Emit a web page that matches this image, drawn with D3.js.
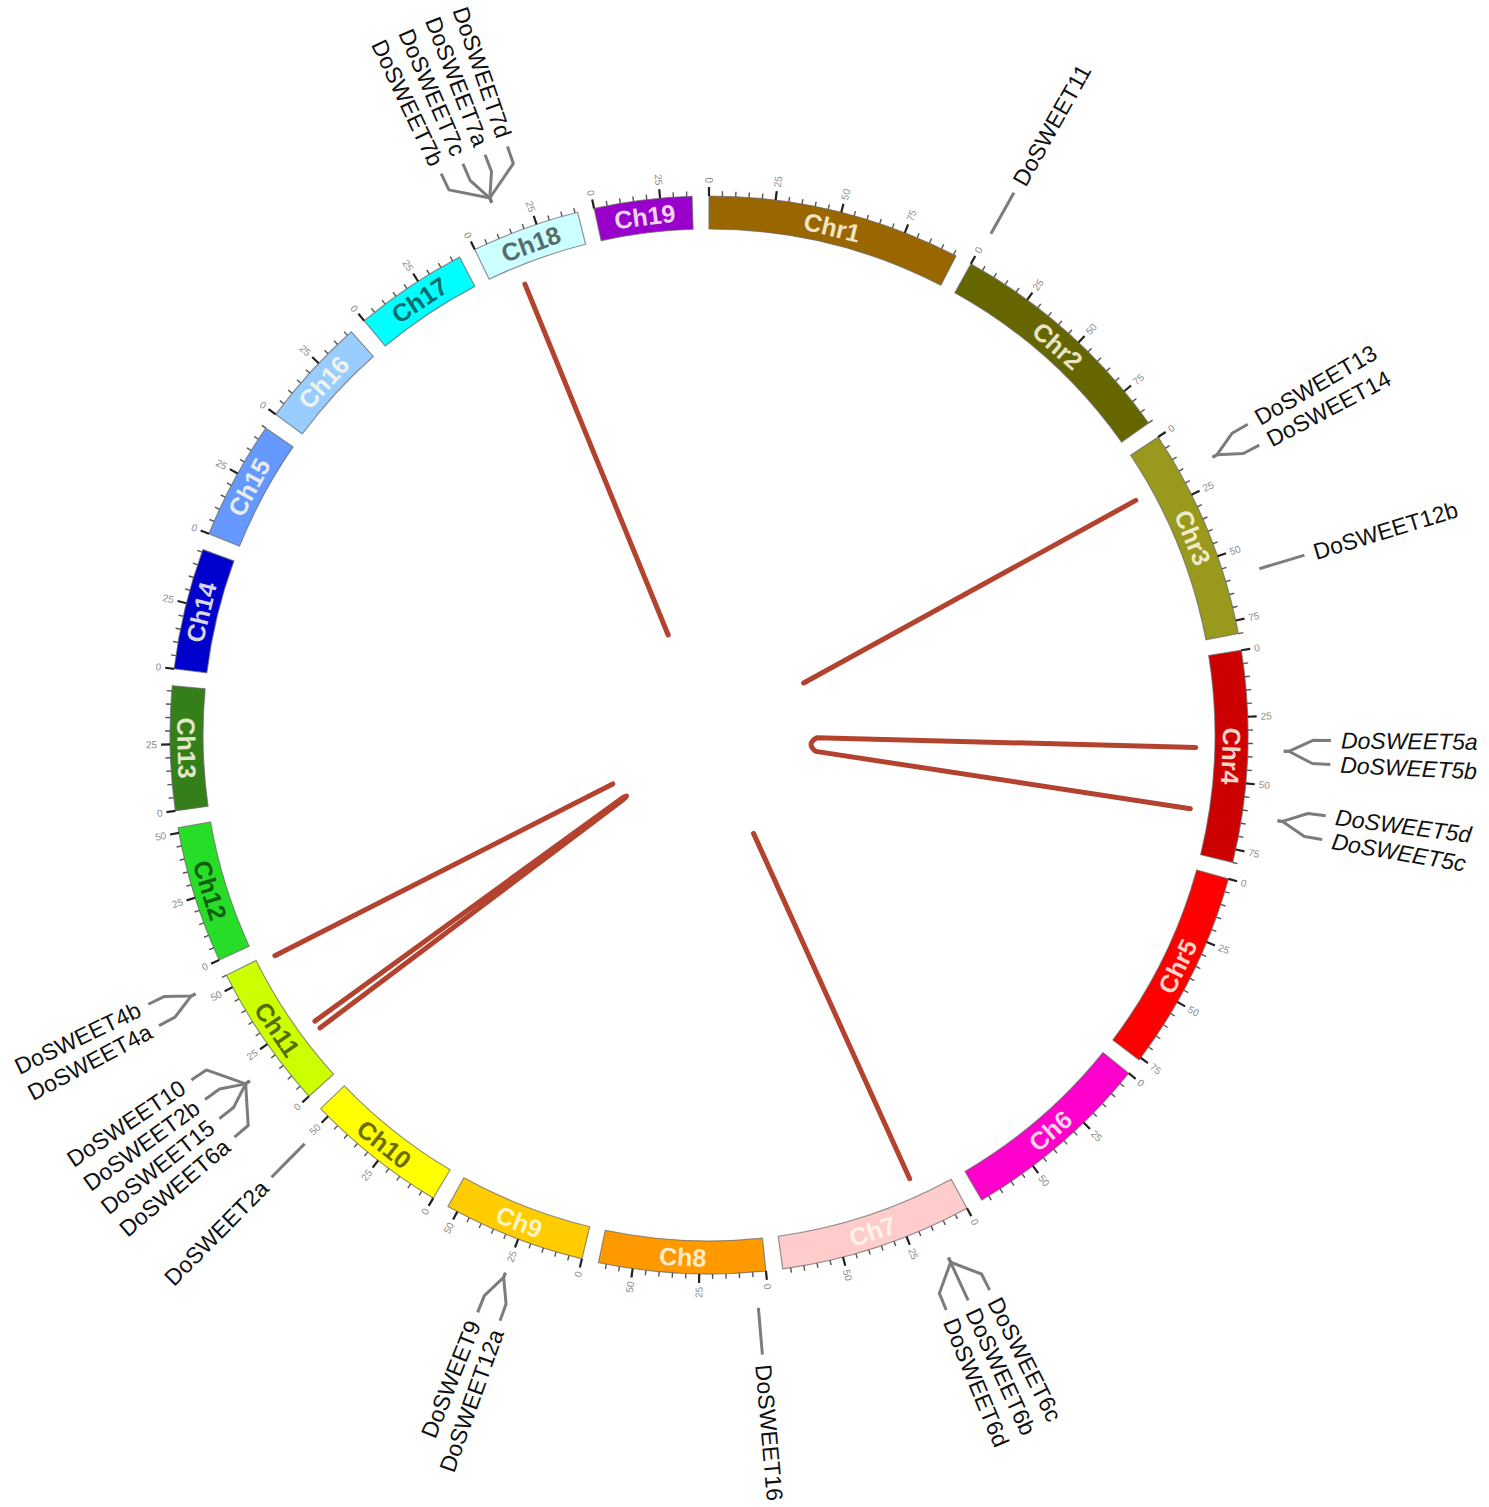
<!DOCTYPE html>
<html>
<head>
<meta charset="UTF-8">
<title>DoSWEET circos</title>
<script src="https://d3js.org/d3.v7.min.js"></script>
<style>
  body { margin: 0; background: #fff; }
  text { font-family: "Liberation Sans", Arial, sans-serif; }
</style>
</head>
<body>
<div id="chart"></div>
<script>
const width = 1489, height = 1507;
const cx = 709, cy = 735;

// chromosomes (Mb), clockwise from 12 o'clock
const chromosomes = ["Chr1", "Chr2", "Chr3", "Chr4", "Chr5", "Ch6", "Ch7", "Ch8", "Ch9", "Ch10",
                     "Ch11", "Ch12", "Ch13", "Ch14", "Ch15", "Ch16", "Ch17", "Ch18", "Ch19"];
const chromLengths = [96, 90, 80, 80, 76, 73, 73, 63, 54, 54, 55, 52, 47, 46, 45, 42, 43, 41, 37];
const chromColors = ["#996600", "#666600", "#99991e", "#cc0000", "#ff0000", "#ff00cc", "#ffcccc",
                     "#ff9900", "#ffcc00", "#ffff00", "#ccff00", "#28dd28", "#357f1a", "#0000cc",
                     "#6699ff", "#99ccff", "#00ffff", "#ccffff", "#9900cc"];
// chromosomes whose name is written in a dark shade
const darkLabelChroms = ["Ch10", "Ch11", "Ch12", "Ch17", "Ch18"];

const minorTickStep = 5;
const majorTickStep = 25;

// gene labels
const geneNames = ["DoSWEET11", "DoSWEET13", "DoSWEET14", "DoSWEET12b", "DoSWEET5a", "DoSWEET5b",
                   "DoSWEET5d", "DoSWEET5c", "DoSWEET6c", "DoSWEET6b", "DoSWEET6d", "DoSWEET16",
                   "DoSWEET12a", "DoSWEET9", "DoSWEET2a", "DoSWEET6a", "DoSWEET15", "DoSWEET2b",
                   "DoSWEET10", "DoSWEET4a", "DoSWEET4b", "DoSWEET7b", "DoSWEET7c", "DoSWEET7a", "DoSWEET7d"];
const geneChroms = ["Chr2", "Chr3", "Chr3", "Chr3", "Chr4", "Chr4", "Chr4", "Chr4", "Ch7", "Ch7", "Ch7",
                    "Ch8", "Ch9", "Ch9", "Ch10", "Ch11", "Ch11", "Ch11", "Ch11", "Ch11", "Ch11",
                    "Ch18", "Ch18", "Ch18", "Ch18"];
const genePositions = [1, 16.5, 16.5, 59, 37.5, 37.5, 62, 62, 14, 14, 14, 4, 25, 25, 49,
                       18, 18, 18, 18, 54, 54, 12.5, 12.5, 12.5, 12.5];
const italicGenes = ["DoSWEET5a", "DoSWEET5b", "DoSWEET5c", "DoSWEET5d"];

// duplication links
const linkFromChrom = ["Ch18", "Ch7", "Chr4", "Ch11"];
const linkFromPos = [12.5, 15, 37, 18];
const linkToChrom = ["Chr3", "Ch11", "Chr4", "Ch11"];
const linkToPos = [16.8, 53.3, 62.5, 21.5];

const rIn = 506, rOut = 539;
const gapDeg = 1.8;
const rad = Math.PI / 180;

function pt(deg, r) {
    return [r * Math.sin(deg * rad), -r * Math.cos(deg * rad)];
}

const k = (360 - gapDeg * chromosomes.length) / d3.sum(chromLengths);
let acc = 0;
const layout = chromosomes.map(function (name, i) {
    const start = acc;
    const end = start + chromLengths[i] * k;
    acc = end + gapDeg;
    return {
        name: name, len: chromLengths[i], start: start, end: end, color: chromColors[i],
        scale: d3.scaleLinear().domain([0, chromLengths[i]]).range([start, end])
    };
});
const byName = {};
layout.forEach(function (c) { byName[c.name] = c; });

const svg = d3.select("#chart").append("svg")
    .attr("width", width)
    .attr("height", height);
const vis = svg.append("g").attr("transform", "translate(" + cx + "," + cy + ")");

// bands
const arc = d3.arc().innerRadius(rIn).outerRadius(rOut);
vis.selectAll("path.band")
    .data(layout)
    .enter()
    .append("path")
    .attr("class", "band")
    .attr("d", function (d) { return arc({ startAngle: d.start * rad, endAngle: d.end * rad }); })
    .attr("fill", function (d) { return d.color; })
    .attr("stroke", "#666")
    .attr("stroke-opacity", 0.7)
    .attr("stroke-width", 1.2);

vis.selectAll("text.band-label")
    .data(layout)
    .enter()
    .append("text")
    .attr("class", "band-label")
    .attr("text-anchor", "middle")
    .attr("dominant-baseline", "central")
    .attr("font-size", 25)
    .attr("font-weight", "bold")
    .attr("fill", function (d) {
        return darkLabelChroms.indexOf(d.name) >= 0
            ? d3.color(d.color).darker(2.4)
            : d3.interpolateRgb(d.color, "#fffbea")(0.85);
    })
    .attr("transform", function (d) {
        const mid = (d.start + d.end) / 2;
        const p = pt(mid, (rIn + rOut) / 2);
        const rot = (mid > 100 && mid < 275) ? mid - 180 : mid;
        return "translate(" + p + ")rotate(" + rot + ")";
    })
    .text(function (d) { return d.name; });

// ticks
const ticks = [];
layout.forEach(function (c) {
    d3.range(0, c.len + 0.001, minorTickStep).forEach(function (v) {
        ticks.push({ angle: c.scale(v), value: v, major: v % majorTickStep === 0 });
    });
});
vis.selectAll("line.tick")
    .data(ticks)
    .enter()
    .append("line")
    .attr("class", "tick")
    .attr("x1", function (d) { return pt(d.angle, rOut)[0]; })
    .attr("y1", function (d) { return pt(d.angle, rOut)[1]; })
    .attr("x2", function (d) { return pt(d.angle, rOut + (d.major ? 9 : 5))[0]; })
    .attr("y2", function (d) { return pt(d.angle, rOut + (d.major ? 9 : 5))[1]; })
    .attr("stroke", function (d) { return d.major ? "#222" : "#555"; })
    .attr("stroke-width", function (d) { return d.major ? 2.2 : 1.4; });

function radialText(angle, r) {
    const p = pt(angle, r);
    return "translate(" + p + ")rotate(" + (angle < 180 ? angle - 90 : angle + 90) + ")";
}

vis.selectAll("text.tick-label")
    .data(ticks.filter(function (d) { return d.major; }))
    .enter()
    .append("text")
    .attr("class", "tick-label")
    .attr("font-size", 10)
    .attr("fill", "#8c8c8c")
    .attr("dominant-baseline", "central")
    .attr("text-anchor", function (d) { return d.angle < 180 ? "start" : "end"; })
    .attr("transform", function (d) { return radialText(d.angle, rOut + 13); })
    .text(function (d) { return d.value; });

// links
const rLinkOut = 487, rLinkIn = 108;
const links = linkFromChrom.map(function (c, i) {
    return {
        a: byName[c].scale(linkFromPos[i]),
        b: byName[linkToChrom[i]].scale(linkToPos[i]),
        same: c === linkToChrom[i]
    };
});
vis.selectAll("path.link")
    .data(links)
    .enter()
    .append("path")
    .attr("class", "link")
    .attr("d", function (d) {
        const p = d3.path();
        p.moveTo(...pt(d.a, rLinkOut));
        p.lineTo(...pt(d.a, rLinkIn));
        if (d.same) {
            const c = pt((d.a + d.b) / 2, rLinkIn * 0.9);
            const e = pt(d.b, rLinkIn);
            p.quadraticCurveTo(c[0], c[1], e[0], e[1]);
            p.lineTo(...pt(d.b, rLinkOut));
        } else {
            p.moveTo(...pt(d.b, rLinkOut));
            p.lineTo(...pt(d.b, rLinkIn));
        }
        return p.toString();
    })
    .attr("fill", "none")
    .attr("stroke", "#b3422e")
    .attr("stroke-width", 5)
    .attr("stroke-linecap", "round")
    .attr("stroke-linejoin", "round");

// gene labels, fanned around their locus
const labelGap = 2.2;
const genes = geneNames.map(function (n, i) {
    return { name: n, angle: byName[geneChroms[i]].scale(genePositions[i]), key: geneChroms[i] + ":" + genePositions[i] };
});
d3.groups(genes, function (d) { return d.key; }).forEach(function (g) {
    const list = g[1];
    list.forEach(function (d, i) {
        d.labelAngle = d.angle + (i - (list.length - 1) / 2) * labelGap;
    });
});

const connector = d3.line();
vis.selectAll("path.connector")
    .data(genes)
    .enter()
    .append("path")
    .attr("class", "connector")
    .attr("d", function (d) {
        return connector([pt(d.angle, 575), pt(d.angle, 580), pt(d.labelAngle, 604), pt(d.labelAngle, 622)]);
    })
    .attr("fill", "none")
    .attr("stroke", "#7c7c7c")
    .attr("stroke-width", 3)
    .attr("stroke-linejoin", "round");

vis.selectAll("text.gene")
    .data(genes)
    .enter()
    .append("text")
    .attr("class", "gene")
    .attr("font-size", 23)
    .attr("fill", "#111")
    .attr("font-style", function (d) { return italicGenes.indexOf(d.name) >= 0 ? "italic" : "normal"; })
    .attr("dominant-baseline", "central")
    .attr("text-anchor", function (d) { return d.labelAngle < 180 ? "start" : "end"; })
    .attr("transform", function (d) { return radialText(d.labelAngle, 632); })
    .text(function (d) { return d.name; });
</script>
</body>
</html>
